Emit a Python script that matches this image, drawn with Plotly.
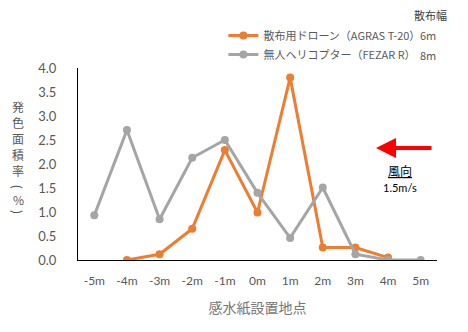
import plotly.graph_objects as go

# 感水紙の設置地点と発色面積率（%）
positions = ["-5m", "-4m", "-3m", "-2m", "-1m", "0m", "1m", "2m", "3m", "4m", "5m"]
drone_values = [None, 0.0, 0.12, 0.65, 2.29, 0.99, 3.80, 0.26, 0.26, 0.05, None]
heli_values = [0.93, 2.71, 0.85, 2.13, 2.50, 1.40, 0.46, 1.51, 0.12, 0.0, 0.0]

series_names = ["散布用ドローン（AGRAS T-20）", "無人ヘリコプター（FEZAR R）"]
spray_widths = ["6m", "8m"]
y_ticks = [0.0, 0.5, 1.0, 1.5, 2.0, 2.5, 3.0, 3.5, 4.0]

ORANGE = "#ED7D31"
GRAY = "#A5A5A5"
TEXT = "#595959"
JP = "Noto Sans CJK JP"
NUM = "Lato, Noto Sans CJK JP"

PLOT_TOP, PLOT_BOTTOM, PLOT_LEFT, PLOT_RIGHT = 68, 260, 78, 437


def px_to_paper_y(py):
    return (PLOT_BOTTOM - py) / (PLOT_BOTTOM - PLOT_TOP)


def px_to_paper_x(px):
    return (px - PLOT_LEFT) / (PLOT_RIGHT - PLOT_LEFT)


fig = go.Figure()
fig.add_trace(go.Scatter(
    x=positions, y=drone_values, name=series_names[0], mode="lines+markers",
    line=dict(color=ORANGE, width=3), marker=dict(color=ORANGE, size=8),
    connectgaps=False,
))
fig.add_trace(go.Scatter(
    x=positions, y=heli_values, name=series_names[1], mode="lines+markers",
    line=dict(color=GRAY, width=3), marker=dict(color=GRAY, size=8),
))

fig.update_layout(
    width=468, height=332,
    margin=dict(l=PLOT_LEFT, r=468 - PLOT_RIGHT, t=PLOT_TOP, b=332 - PLOT_BOTTOM),
    paper_bgcolor="white", plot_bgcolor="white",
    font=dict(family=JP, color=TEXT, size=12),
    showlegend=True,
    legend=dict(
        x=0.405, y=1.245, xanchor="left", yanchor="top",
        font=dict(family=JP, size=11, color=TEXT),
        itemwidth=30, tracegroupgap=0, bgcolor="rgba(0,0,0,0)",
    ),
    xaxis=dict(
        type="category", categoryorder="array", categoryarray=positions,
        range=[-0.5, 10.5], showline=True, linecolor="black", linewidth=1,
        showgrid=False, zeroline=False, ticks="", ticklabelstandoff=10,
        tickfont=dict(family=NUM, size=12, color=TEXT),
        title=dict(text="感水紙設置地点", font=dict(family=JP, size=14, color="#767676"), standoff=15),
    ),
    yaxis=dict(
        range=[0, 4], tickvals=y_ticks, ticktext=[f"{v:.1f}" for v in y_ticks],
        showline=True, linecolor="black", linewidth=1,
        showgrid=False, zeroline=False, ticks="", ticklabelstandoff=18,
        tickfont=dict(family=NUM, size=13, color=TEXT),
    ),
)

annotations = []

# 縦書きの軸タイトル：一文字ずつ縦に並べる
TITLE_X = px_to_paper_x(18)
for ch, cy in zip(["発", "色", "面", "積", "率"], [106, 122, 138, 154, 170]):
    annotations.append(dict(
        text=ch, xref="paper", yref="paper", x=TITLE_X, y=px_to_paper_y(cy),
        xanchor="center", yanchor="middle", showarrow=False, borderpad=0,
        font=dict(family=JP, size=12, color=TEXT),
    ))
# 括弧は横向きの丸括弧を90°回転させて縦書き用の形にする
for ch, cy, angle, fam, size in [("(", 187, 90, "Lato", 14), ("%", 199, 0, JP, 12), (")", 212, 90, "Lato", 14)]:
    annotations.append(dict(
        text=ch, xref="paper", yref="paper", x=TITLE_X, y=px_to_paper_y(cy),
        xanchor="center", yanchor="middle", showarrow=False, borderpad=0,
        textangle=angle, font=dict(family=fam, size=size, color=TEXT),
    ))

annotations += [
    # 凡例の見出しと散布幅
    dict(text="散布幅", xref="paper", yref="paper", x=px_to_paper_x(430), y=px_to_paper_y(15),
         xanchor="center", yanchor="middle", showarrow=False,
         font=dict(family=JP, size=11, color="#404040")),
    dict(text=spray_widths[0], xref="paper", yref="paper", x=px_to_paper_x(428), y=px_to_paper_y(35),
         xanchor="center", yanchor="middle", showarrow=False,
         font=dict(family=JP, size=11, color=TEXT)),
    dict(text=spray_widths[1], xref="paper", yref="paper", x=px_to_paper_x(428), y=px_to_paper_y(55),
         xanchor="center", yanchor="middle", showarrow=False,
         font=dict(family=JP, size=11, color=TEXT)),
    # 風向の矢印
    dict(text="", xref="paper", yref="paper", x=px_to_paper_x(376), y=px_to_paper_y(148),
         ax=57, ay=0, showarrow=True, arrowhead=2, arrowsize=1,
         arrowwidth=4, arrowcolor="#FF0000"),
    dict(text="<u>風向</u>", xref="paper", yref="paper", x=px_to_paper_x(400), y=px_to_paper_y(170),
         xanchor="center", yanchor="middle", showarrow=False,
         font=dict(family=JP, size=12, color="black")),
    dict(text="1.5m/s", xref="paper", yref="paper", x=px_to_paper_x(400), y=px_to_paper_y(187),
         xanchor="center", yanchor="middle", showarrow=False,
         font=dict(family=NUM, size=11, color="black")),
]
fig.update_layout(annotations=annotations)

fig.write_html("out.html")
